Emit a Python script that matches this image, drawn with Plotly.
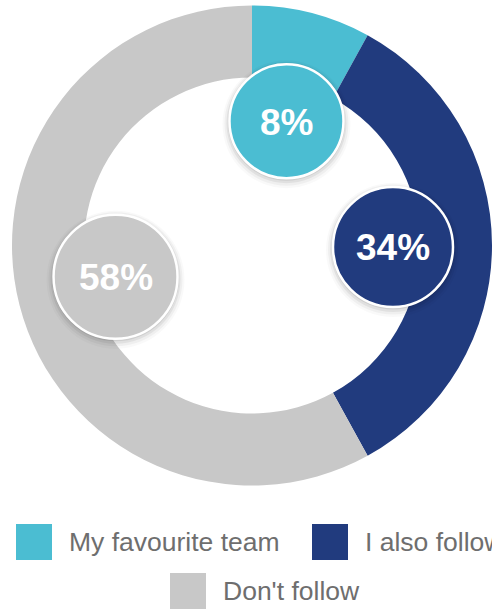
import math
import plotly.graph_objects as go

# Survey answers and their shares (percent)
labels = ["My favourite team", "I also follow", "Don't follow"]
values = [8, 34, 58]
colors = ["#4BBDD2", "#213B7E", "#C8C8C8"]

W, H = 492, 609

# Donut geometry in pixels
CX, CY, R_OUT = 252, 245.5, 240
HOLE = 0.70

# Bubble styling for each value label
bubble_radius = [57, 60, 62]
bubble_dist = [129, 141, 140]
bubble_angle_shift = [1.1, 0.6, 1.5]


def px(x):
    return x / W


def py(y):
    return 1 - y / H


fig = go.Figure(
    go.Pie(
        labels=labels,
        values=values,
        marker=dict(colors=colors, line=dict(width=0)),
        hole=HOLE,
        sort=False,
        direction="clockwise",
        rotation=0,
        textinfo="none",
        hoverinfo="label+percent",
        showlegend=False,
        domain=dict(
            x=[px(CX - R_OUT), px(CX + R_OUT)],
            y=[py(CY + R_OUT), py(CY - R_OUT)],
        ),
    )
)

shapes = []
annotations = []

total = sum(values)
cum = 0
for i, v in enumerate(values):
    mid = (cum + v / 2) / total * 360 + bubble_angle_shift[i]
    cum += v
    th = math.radians(mid)
    bx = CX + bubble_dist[i] * math.sin(th)
    by = CY - bubble_dist[i] * math.cos(th)
    r = bubble_radius[i]
    # soft drop shadow
    for grow, dy, op in [(7, 3, 0.025), (5, 2.5, 0.04), (3, 2, 0.06), (1.5, 1, 0.08)]:
        shapes.append(dict(
            type="circle", xref="paper", yref="paper",
            x0=px(bx - r - grow), x1=px(bx + r + grow),
            y0=py(by + dy + r + grow), y1=py(by + dy - r - grow),
            fillcolor="rgba(0,0,0,%g)" % op, line=dict(width=0), layer="above",
        ))
    shapes.append(dict(
        type="circle", xref="paper", yref="paper",
        x0=px(bx - r), x1=px(bx + r),
        y0=py(by + r), y1=py(by - r),
        fillcolor=colors[i], line=dict(color="white", width=2.5), layer="above",
    ))
    annotations.append(dict(
        x=px(bx), y=py(by + 1), xref="paper", yref="paper",
        text="<b>%d%%</b>" % v, showarrow=False,
        xanchor="center", yanchor="middle",
        font=dict(family="Liberation Sans, Arial, sans-serif", size=37, color="white"),
    ))

# Custom legend: large colour squares with grey captions
legend_pos = [(16, 542), (312, 542), (170, 591)]
SQ = 36
for i, name in enumerate(labels):
    lx, ly = legend_pos[i]
    shapes.append(dict(
        type="rect", xref="paper", yref="paper",
        x0=px(lx), x1=px(lx + SQ), y0=py(ly + SQ / 2), y1=py(ly - SQ / 2),
        fillcolor=colors[i], line=dict(width=0),
    ))
    annotations.append(dict(
        x=px(lx + SQ + 15), y=py(ly), xref="paper", yref="paper",
        text=name, showarrow=False, xanchor="left", yanchor="middle",
        font=dict(family="Liberation Sans, Arial, sans-serif", size=26.5, color="#6E6E6E"),
    ))

fig.update_layout(
    width=W, height=H,
    margin=dict(l=0, r=0, t=0, b=0),
    paper_bgcolor="white",
    plot_bgcolor="white",
    shapes=shapes,
    annotations=annotations,
    showlegend=False,
)

fig.write_html("out.html")
